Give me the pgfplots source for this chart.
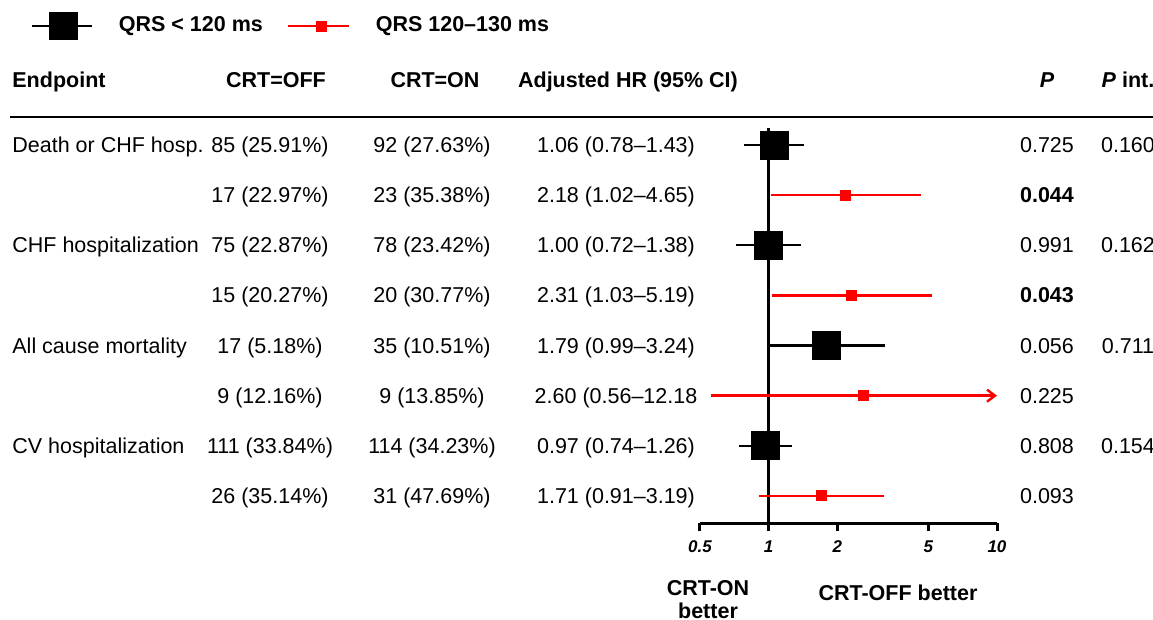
\documentclass[border=0pt]{standalone}
\usepackage{fontspec}
\setmainfont{Liberation Sans}
\usepackage{pgfplots}
\pgfplotsset{compat=1.18}
\usetikzlibrary{arrows.meta}
\begin{document}
\fontsize{10.75pt}{13pt}\selectfont
\begin{tikzpicture}
\useasboundingbox (0,0) rectangle (576.5pt,-310pt);
\clip (0,0) rectangle (576.5pt,-310pt);
\begin{axis}[
  at={(350pt,-261.5pt)}, anchor=south west,
  scale only axis, width=148.5pt, height=197.5pt,
  xmode=log, xmin=0.5, xmax=10, ymin=0.46, ymax=8.34,
  axis x line*=bottom, axis y line=none,
  axis line style={line width=1.5pt},
  xtick={0.5,1,2,5,10}, xticklabels={0.5,1,2,5,10},
  xminorticks=false, ytick=\empty,
  tick align=outside, major tick length=4pt,
  tick style={line width=1.5pt, black},
  xticklabel style={font=\fontsize{8.5pt}{10pt}\selectfont\bfseries\itshape, yshift=-1pt},
  clip=false,
  legend columns=2,
  legend cell align=left,
  legend style={at={(-2.2525,1.2582)}, anchor=west, draw=none, fill=none,
    inner sep=0pt, outer sep=0pt, font=\bfseries,
    nodes={inner sep=0pt},
    /tikz/every odd column/.append style={column sep=12.75pt},
    /tikz/every even column/.append style={column sep=12pt}},
]
\addlegendimage{legend image code/.code={
  \draw[black,line width=1.2pt] (0pt,0pt) -- (30pt,0pt);
  \fill[black] (8.5pt,-6.75pt) rectangle (22.5pt,6.75pt);}}
\addlegendentry{QRS < 120 ms}
\addlegendimage{legend image code/.code={
  \draw[red,line width=1.2pt] (0pt,0pt) -- (30.5pt,0pt);
  \fill[red] (14pt,-2.5pt) rectangle (19pt,2.5pt);}}
\addlegendentry{QRS 120--130 ms}
% reference line at HR = 1
\addplot[black, line width=1.5pt, forget plot] coordinates {(1,0.46) (1,8.34)};
% CI lines, QRS < 120 ms
\addplot[black, line width=1.2pt, forget plot] coordinates {(0.78,8) (1.43,8)};
\addplot[black, line width=1.2pt, forget plot] coordinates {(0.72,6) (1.38,6)};
\addplot[black, line width=1.2pt, forget plot] coordinates {(0.99,4) (3.24,4)};
\addplot[black, line width=1.2pt, forget plot] coordinates {(0.74,2) (1.26,2)};
% CI lines, QRS 120-130 ms
\addplot[red, line width=1.2pt, forget plot] coordinates {(1.02,7) (4.65,7)};
\addplot[red, line width=1.2pt, forget plot] coordinates {(1.03,5) (5.19,5)};
\addplot[red, line width=1.2pt, forget plot, -{Straight Barb[length=4pt,width=6pt]}] coordinates {(0.56,3) (10,3)};
\addplot[red, line width=1.2pt, forget plot] coordinates {(0.91,1) (3.19,1)};
% point estimates
\addplot[only marks, mark=square*, mark size=7pt, black, mark options={line width=0pt}, forget plot]
  coordinates {(1.06,8) (1.00,6) (1.79,4) (0.97,2)};
\addplot[only marks, mark=square*, mark size=2.5pt, red, mark options={line width=0pt}, forget plot]
  coordinates {(2.18,7) (2.31,5) (2.60,3) (1.71,1)};
\end{axis}
\begin{scope}[x=0.5pt,y=-0.5pt, every node/.style={inner sep=0pt}]
\draw[line width=1pt] (10,117) -- (1160,117);
% header
\node[anchor=base west, font=\bfseries] at (12,88) {Endpoint};
\node[anchor=base, font=\bfseries] at (276,88) {CRT=OFF};
\node[anchor=base, font=\bfseries] at (435,88) {CRT=ON};
\node[anchor=base, font=\bfseries] at (628,88) {Adjusted HR (95\% CI)};
\node[anchor=base, font=\bfseries\itshape] at (1047,88) {P};
\node[anchor=base, font=\bfseries] at (1128,88) {\textit{P} int.};
% rows
\node[anchor=base west] at (12,152.7) {Death or CHF hosp.};
\node[anchor=base] at (270,152.7) {85 (25.91\%)};
\node[anchor=base] at (432,152.7) {92 (27.63\%)};
\node[anchor=base] at (616,152.7) {1.06 (0.78--1.43)};
\node[anchor=base] at (1047,152.7) {0.725};
\node[anchor=base] at (1128,152.7) {0.160};

\node[anchor=base] at (270,202.7) {17 (22.97\%)};
\node[anchor=base] at (432,202.7) {23 (35.38\%)};
\node[anchor=base] at (616,202.7) {2.18 (1.02--4.65)};
\node[anchor=base, font=\bfseries] at (1047,202.7) {0.044};

\node[anchor=base west] at (12,252.7) {CHF hospitalization};
\node[anchor=base] at (270,252.7) {75 (22.87\%)};
\node[anchor=base] at (432,252.7) {78 (23.42\%)};
\node[anchor=base] at (616,252.7) {1.00 (0.72--1.38)};
\node[anchor=base] at (1047,252.7) {0.991};
\node[anchor=base] at (1128,252.7) {0.162};

\node[anchor=base] at (270,302.7) {15 (20.27\%)};
\node[anchor=base] at (432,302.7) {20 (30.77\%)};
\node[anchor=base] at (616,302.7) {2.31 (1.03--5.19)};
\node[anchor=base, font=\bfseries] at (1047,302.7) {0.043};

\node[anchor=base west] at (12,353.7) {All cause mortality};
\node[anchor=base] at (270,353.7) {17 (5.18\%)};
\node[anchor=base] at (432,353.7) {35 (10.51\%)};
\node[anchor=base] at (616,353.7) {1.79 (0.99--3.24)};
\node[anchor=base] at (1047,353.7) {0.056};
\node[anchor=base] at (1128,353.7) {0.711};

\node[anchor=base] at (270,403.7) {9 (12.16\%)};
\node[anchor=base] at (432,403.7) {9 (13.85\%)};
\node[anchor=base] at (616,403.7) {2.60 (0.56--12.18};
\node[anchor=base] at (1047,403.7) {0.225};

\node[anchor=base west] at (12,453.7) {CV hospitalization};
\node[anchor=base] at (270,453.7) {111 (33.84\%)};
\node[anchor=base] at (432,453.7) {114 (34.23\%)};
\node[anchor=base] at (616,453.7) {0.97 (0.74--1.26)};
\node[anchor=base] at (1047,453.7) {0.808};
\node[anchor=base] at (1128,453.7) {0.154};

\node[anchor=base] at (270,503.7) {26 (35.14\%)};
\node[anchor=base] at (432,503.7) {31 (47.69\%)};
\node[anchor=base] at (616,503.7) {1.71 (0.91--3.19)};
\node[anchor=base] at (1047,503.7) {0.093};
% bottom labels
\node[anchor=base, font=\bfseries] at (708,595.7) {CRT-ON};
\node[anchor=base, font=\bfseries] at (708,618.5) {better};
\node[anchor=base, font=\bfseries] at (898,600.7) {CRT-OFF better};
\end{scope}
\end{tikzpicture}
\end{document}
